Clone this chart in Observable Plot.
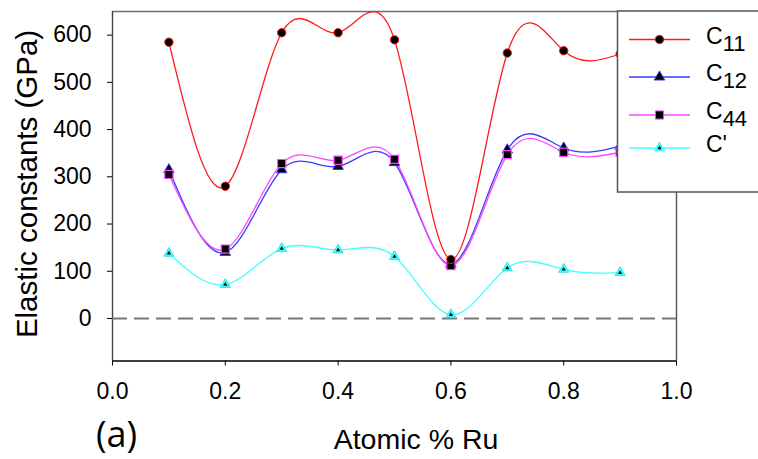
<!DOCTYPE html>
<html>
<head>
<meta charset="utf-8">
<script src="https://cdn.jsdelivr.net/npm/d3@7"></script>
<script src="https://cdn.jsdelivr.net/npm/@observablehq/plot@0.6"></script>
<style>
  html, body { margin: 0; padding: 0; background: #fff; overflow: hidden; }
  #chart { width: 758px; height: 459px; position: relative; }
  #chart svg { display: block; max-width: none !important; }
</style>
</head>
<body>
<div id="chart"></div>
<script>
// Elastic constants of the alloy versus Ru content
const ruFraction = [0.1, 0.2, 0.3, 0.4, 0.5, 0.6, 0.7, 0.8, 0.9];
const c11 = [585, 280, 605, 605, 590, 125, 562, 567, 560];
const c12 = [315, 140, 315, 322, 330, 115, 357, 361, 365];
const c44 = [305, 147, 328, 335, 337, 112, 347, 352, 352];
const cPrime = [138, 72, 148, 145, 131, 8, 107, 104, 97];

const seriesKeys = ["C11", "C12", "C44", "C'"];
const seriesMain = ["C", "C", "C", "C'"];
const seriesSub = ["11", "12", "44", ""];
const seriesColors = ["#ff1a1a", "#3a3aff", "#ff44ff", "#44ffff"];

const xTicks = [0, 0.2, 0.4, 0.6, 0.8, 1.0];
const yTicks = [0, 100, 200, 300, 400, 500, 600];

const xLabel = "Atomic % Ru";
const yLabel = "Elastic constants (GPa)";
const panelLabel = "(a)";

const seriesValues = [c11, c12, c44, cPrime];
const table = seriesKeys.flatMap((key, s) =>
  ruFraction.map((x, i) => ({x, y: seriesValues[s][i], series: key}))
);
const bySeries = key => table.filter(d => d.series === key);

const W = 758, H = 459;
const FONT = "Liberation Sans, Arial, sans-serif";

const plot = Plot.plot({
  width: W,
  height: H,
  marginTop: 11,
  marginRight: 82,
  marginBottom: 98.5,
  marginLeft: 112,
  style: {fontFamily: FONT, fontSize: "23px", color: "black", background: "white"},
  x: {domain: [0, 1]},
  y: {domain: [-90, 650]},
  color: {domain: seriesKeys, range: seriesColors},
  marks: [
    // plot frame
    Plot.ruleY([650], {stroke: "#6e6e6e", strokeWidth: 1.4}),
    Plot.ruleX([1], {stroke: "#555", strokeWidth: 1.4}),
    Plot.ruleX([0], {stroke: "#444", strokeWidth: 1.4}),
    Plot.ruleY([-90], {stroke: "black", strokeWidth: 1.4}),
    // zero reference
    Plot.ruleY([0], {stroke: "#777", strokeWidth: 2, strokeDasharray: "15,7"}),
    Plot.axisX({ticks: xTicks, tickFormat: d3.format(".1f"), tickSize: 5, tickPadding: 17, label: null}),
    Plot.axisY({ticks: yTicks, tickSize: 5, tickPadding: 16, label: null}),
    // smooth curves
    Plot.line(table, {x: "x", y: "y", z: "series", stroke: "series", strokeWidth: 1.3, curve: "natural"}),
    // markers
    Plot.dot(bySeries("C'"), {x: "x", y: "y", symbol: "triangle", r: 3.8, fill: "#44ffff", stroke: "#22dddd", strokeWidth: 0.8}),
    Plot.dot(bySeries("C'"), {x: "x", y: "y", symbol: "triangle", r: 1.6, fill: "#111"}),
    Plot.dot(bySeries("C12"), {x: "x", y: "y", symbol: "triangle", r: 3.9, fill: "black", stroke: "#3a3aff", strokeWidth: 1}),
    Plot.dot(bySeries("C44"), {x: "x", y: "y", symbol: "square", r: 4.6, fill: "black", stroke: "#ff44ff", strokeWidth: 1.2}),
    Plot.dot(bySeries("C11"), {x: "x", y: "y", symbol: "circle", r: 4.2, fill: "black", stroke: "#ff1a1a", strokeWidth: 1})
  ]
});

document.getElementById("chart").appendChild(plot);

const svg = d3.select(plot);

// axis titles and panel label
svg.append("text")
  .attr("transform", "translate(37,184) rotate(-90)")
  .attr("text-anchor", "middle")
  .attr("font-family", FONT)
  .style("font-size", "29.5px")
  .attr("fill", "black")
  .text(yLabel);

svg.append("text")
  .attr("x", 416).attr("y", 449)
  .attr("text-anchor", "middle")
  .attr("font-family", FONT)
  .style("font-size", "28.5px")
  .attr("fill", "black")
  .text(xLabel);

svg.append("text")
  .attr("x", 96).attr("y", 447)
  .attr("text-anchor", "start")
  .attr("font-family", "Open Sans, Noto Sans, sans-serif")
  .style("font-size", "36px")
  .attr("fill", "black")
  .text(panelLabel);

// legend box
const legend = svg.append("g");
legend.append("rect")
  .attr("x", 617.5).attr("y", 11)
  .attr("width", 170).attr("height", 181)
  .attr("fill", "white")
  .attr("stroke", "#555").attr("stroke-width", 1.5);

const rowY = [39.5, 77, 115, 148];
const legendSymbols = [
  {type: d3.symbolCircle, size: Math.PI * 4.2 * 4.2, fill: "black"},
  {type: d3.symbolTriangle, size: Math.PI * 3.9 * 3.9, fill: "black"},
  {type: d3.symbolSquare, size: Math.PI * 4.6 * 4.6, fill: "black"},
  {type: d3.symbolTriangle, size: Math.PI * 3.8 * 3.8, fill: "#44ffff"}
];

seriesKeys.forEach((key, i) => {
  const y = rowY[i];
  legend.append("line")
    .attr("x1", 629).attr("x2", 690)
    .attr("y1", y).attr("y2", y)
    .attr("stroke", seriesColors[i]).attr("stroke-width", 1.3);
  legend.append("path")
    .attr("transform", `translate(659.5,${y})`)
    .attr("d", d3.symbol(legendSymbols[i].type, legendSymbols[i].size)())
    .attr("fill", legendSymbols[i].fill)
    .attr("stroke", seriesColors[i]).attr("stroke-width", 1);
  if (i === 3) {
    legend.append("path")
      .attr("transform", `translate(659.5,${y})`)
      .attr("d", d3.symbol(d3.symbolTriangle, Math.PI * 1.6 * 1.6)())
      .attr("fill", "#111");
  }
  const t = legend.append("text")
    .attr("x", 706).attr("y", y + 4)
    .attr("text-anchor", "start")
    .attr("font-family", FONT)
    .style("font-size", "23px")
    .attr("fill", "black");
  t.append("tspan").text(seriesMain[i]);
  if (seriesSub[i]) {
    t.append("tspan").attr("dy", 7).style("font-size", "22px").text(seriesSub[i]);
  }
});
</script>
</body>
</html>
